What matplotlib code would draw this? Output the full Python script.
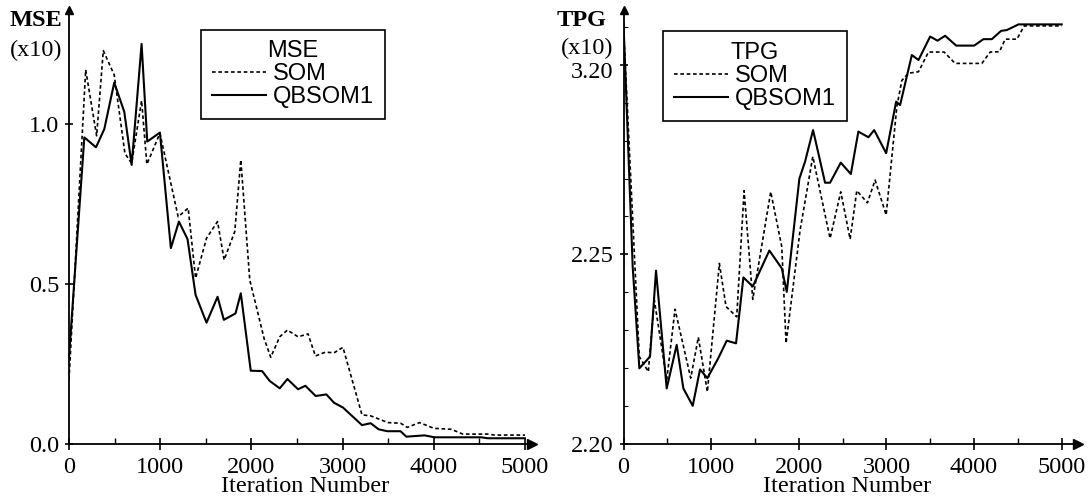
"""
MSE and TPG versus iteration number, SOM vs QBSOM1 (two panels).
"""
import matplotlib
matplotlib.use("Agg")
import matplotlib.pyplot as plt
import matplotlib.transforms as mtransforms
from matplotlib.ticker import MultipleLocator, FixedLocator

# ---- data -----------------------------------------------------------------
mse_som_iter = [0, 183, 303, 376, 496, 613, 687, 796, 854, 997, 1197, 1307,
                1388, 1508, 1629, 1701, 1818, 1884, 1982, 2139, 2212, 2311,
                2395, 2512, 2621, 2702, 2811, 2906, 3004, 3213, 3308, 3497,
                3636, 3710, 3844, 4001, 4192, 4319, 4593, 4666, 5000]
mse_som = [0.20, 1.168, 0.962, 1.228, 1.152, 0.907, 0.876, 1.072, 0.873, 0.970,
           0.709, 0.736, 0.517, 0.642, 0.694, 0.574, 0.663, 0.887, 0.512, 0.329,
           0.270, 0.334, 0.355, 0.334, 0.343, 0.274, 0.286, 0.284, 0.301, 0.090,
           0.087, 0.066, 0.064, 0.051, 0.066, 0.048, 0.045, 0.030, 0.030, 0.027,
           0.027]

mse_qb_iter = [0, 168, 296, 387, 496, 606, 687, 796, 858, 997, 1117, 1205,
               1300, 1388, 1508, 1629, 1698, 1826, 1884, 1993, 2117, 2201,
               2311, 2395, 2512, 2592, 2705, 2822, 2906, 3004, 3114, 3213,
               3308, 3395, 3491, 3636, 3699, 3899, 4009, 4520, 4593, 5000]
mse_qb = [0.27, 0.957, 0.926, 0.983, 1.128, 1.037, 0.871, 1.249, 0.944, 0.972,
          0.611, 0.694, 0.639, 0.465, 0.378, 0.459, 0.387, 0.407, 0.470, 0.228,
          0.227, 0.196, 0.173, 0.202, 0.170, 0.181, 0.149, 0.154, 0.128, 0.113,
          0.084, 0.058, 0.064, 0.045, 0.039, 0.039, 0.022, 0.026, 0.020, 0.020,
          0.017, 0.017]

tpg_som_iter = [0, 180, 283, 352, 493, 588, 767, 854, 957, 1094, 1170, 1292,
                1376, 1475, 1680, 1806, 1855, 2015, 2160, 2357, 2479, 2586,
                2662, 2783, 2871, 2997, 3119, 3176, 3251, 3366, 3480, 3659,
                3784, 4089, 4184, 4290, 4355, 4489, 4572, 5000]
tpg_som = [3.30, 2.43, 2.390, 2.579, 2.368, 2.555, 2.373, 2.481, 2.337, 2.676,
           2.562, 2.535, 2.868, 2.581, 2.865, 2.720, 2.465, 2.764, 2.958, 2.742,
           2.865, 2.740, 2.868, 2.836, 2.896, 2.804, 3.090, 3.159, 3.178, 3.182,
           3.234, 3.234, 3.204, 3.204, 3.234, 3.235, 3.268, 3.268, 3.303, 3.303]

tpg_qb_iter = [0, 105, 181, 303, 371, 493, 607, 683, 790, 873, 957, 1082,
               1178, 1284, 1368, 1475, 1664, 1806, 1863, 2007, 2072, 2163,
               2300, 2357, 2479, 2594, 2680, 2795, 2860, 2997, 3111, 3156,
               3290, 3366, 3499, 3583, 3670, 3796, 4001, 4107, 4203, 4309,
               4374, 4507, 5000]
tpg_qb = [3.31, 2.667, 2.399, 2.430, 2.657, 2.346, 2.461, 2.346, 2.300, 2.396,
          2.373, 2.426, 2.472, 2.465, 2.639, 2.615, 2.710, 2.663, 2.601, 2.900,
          2.945, 3.028, 2.889, 2.889, 2.942, 2.912, 3.024, 3.009, 3.028, 2.967,
          3.103, 3.094, 3.226, 3.213, 3.275, 3.264, 3.277, 3.251, 3.251, 3.268,
          3.268, 3.290, 3.292, 3.307, 3.307]

x_ticks = [0, 1000, 2000, 3000, 4000, 5000]
mse_ticks = [0.0, 0.5, 1.0]
mse_tick_labels = ["0.0", "0.5", "1.0"]
tpg_ticks = [2.20, 2.70, 3.20]
tpg_tick_labels = ["2.20", "2.25", "3.20"]   # labels as printed in the original

W, H = 1089, 500
SERIF = ["Liberation Serif", "DejaVu Serif"]
SANS = ["Liberation Sans", "DejaVu Sans"]
FS = 17.5


def px(x, y):
    """pixel position (from top-left) -> figure fraction"""
    return x / W, 1 - y / H


def style_axis(ax, xmax, ymin, ymax):
    ax.set_xlim(0, xmax)
    ax.set_ylim(ymin, ymax)
    for s in ("top", "right"):
        ax.spines[s].set_visible(False)
    for s in ("left", "bottom"):
        ax.spines[s].set_linewidth(1.3)
    ax.xaxis.set_major_locator(FixedLocator(x_ticks))
    ax.xaxis.set_minor_locator(MultipleLocator(500))
    ax.tick_params(axis="x", which="major", direction="inout", length=9,
                   width=1.2, pad=5, labelsize=FS)
    ax.tick_params(axis="x", which="minor", direction="in", length=4, width=1)
    ax.tick_params(axis="y", which="major", direction="inout", length=6,
                   width=1.2, pad=4, labelsize=FS)
    ax.tick_params(axis="y", which="minor", direction="in", length=3, width=0.8)
    for lab in ax.get_xticklabels() + ax.get_yticklabels():
        lab.set_family(SERIF)
    # arrow heads at the axis ends
    ax.plot([1], [0], marker=">", color="k", ms=7, transform=ax.transAxes,
            clip_on=False)
    ax.plot([0], [1], marker="^", color="k", ms=6, transform=ax.transAxes,
            clip_on=False)


def add_legend(ax, title, corner):
    leg = ax.legend(title=title, loc="upper left",
                    bbox_to_anchor=px(*corner),
                    bbox_transform=ax.figure.transFigure,
                    frameon=True, fancybox=False, edgecolor="k",
                    framealpha=1, prop={"family": SANS, "size": 17},
                    title_fontproperties={"family": SANS, "size": 17},
                    handlelength=2.3, handletextpad=0.3, borderpad=0.45,
                    labelspacing=0.05, borderaxespad=0)
    leg.get_frame().set_linewidth(1.2)
    return leg


fig = plt.figure(figsize=(W / 100, H / 100), dpi=100)

# left panel: MSE
l0, b0 = px(69, 443.7)
ax1 = fig.add_axes([l0, b0, (532 - 69) / W, (443.7 - 10) / H])
ax1.plot(mse_som_iter, mse_som, color="k", lw=1.2, ls=(0, (2.2, 1.6)),
         label="SOM")
ax1.plot(mse_qb_iter, mse_qb, color="k", lw=1.5, label="QBSOM1")
style_axis(ax1, 5077, 0, 1.355)
ax1.set_yticks(mse_ticks)
ax1.set_yticklabels(mse_tick_labels, family=SERIF, fontsize=FS)
add_legend(ax1, "MSE", (201, 29.5))

# right panel: TPG
l1, _ = px(623.5, 443.7)
ax2 = fig.add_axes([l1, b0, (1078 - 623.5) / W, (443.7 - 10) / H])
ax2.plot(tpg_som_iter, tpg_som, color="k", lw=1.2, ls=(0, (2.2, 1.6)),
         label="SOM")
ax2.plot(tpg_qb_iter, tpg_qb, color="k", lw=1.5, label="QBSOM1")
style_axis(ax2, 5186, 2.20, 3.345)
ax2.set_yticks(tpg_ticks)
ax2.set_yticklabels(tpg_tick_labels, family=SERIF, fontsize=FS)
ax2.yaxis.set_minor_locator(MultipleLocator(0.1))
# the top label sits a little below its tick in the original
top_lab = ax2.get_yticklabels()[-1]
top_lab.set_transform(top_lab.get_transform() +
                      mtransforms.ScaledTranslation(0, -5 / 100,
                                                    fig.dpi_scale_trans))
add_legend(ax2, "TPG", (663, 31))

# axis titles
fig.text(*px(62, 20), "MSE", ha="right", va="center", family=SERIF,
         fontsize=FS, fontweight="bold")
fig.text(*px(62, 50), "(x10)", ha="right", va="center", family=SERIF,
         fontsize=FS)
fig.text(*px(607, 20), "TPG", ha="right", va="center", family=SERIF,
         fontsize=FS, fontweight="bold")
fig.text(*px(613, 48), "(x10)", ha="right", va="center", family=SERIF,
         fontsize=FS)
fig.text(*px(305, 487), "Iteration Number", ha="center", va="center",
         family=SERIF, fontsize=FS)
fig.text(*px(847, 487), "Iteration Number", ha="center", va="center",
         family=SERIF, fontsize=FS)

fig.savefig("out.png", dpi=100)
